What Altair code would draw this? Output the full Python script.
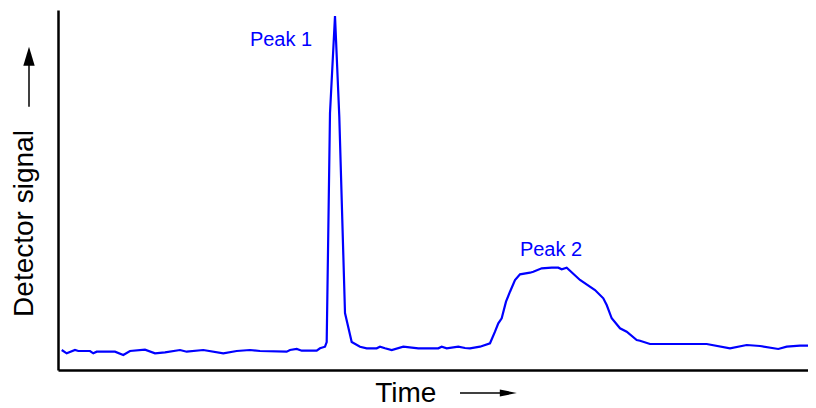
import altair as alt
import pandas as pd

# Chromatogram trace (time units, detector signal units)
time = [2.7, 7.7, 16, 19.3, 31, 34.3, 37.7, 56, 64.3, 71, 86, 96, 106, 121, 127.7,
        144.3, 164.3, 177.7, 191, 201, 227.7, 231, 237.7, 242.7, 257.7, 261, 266,
        267.7, 271, 276, 280.3, 286, 292.7, 301, 307.7, 317.7, 321, 326, 332.7,
        344.3, 359.3, 379.3, 382.7, 387.7, 399.3, 406, 411, 421, 431, 436, 439.3,
        442.7, 447, 451, 456, 461, 471, 474.3, 482.7, 492.7, 499.3, 502.7, 507.7,
        521, 536, 544.3, 547.7, 552.7, 561, 567.7, 577.7, 581, 591, 647.7, 671,
        687.7, 701, 719.3, 727.7, 741, 754]
signal = [20, 16.7, 20, 19, 19, 16.7, 18.3, 18.3, 15, 19, 20.3, 16.7, 17.7, 20, 18.3,
          20, 16.7, 19, 20, 19, 18.3, 20, 21, 19.3, 19.3, 21.7, 23.3,
          28, 257, 354, 253.3, 57, 28, 23.3, 21.7, 21.7, 23.3, 21.7, 20,
          23.3, 21.7, 21.7, 23.3, 21.7, 23.3, 22, 21.7, 23.3, 26.7, 38.3, 46.7,
          51.7, 68.3, 78.3, 90, 95.7, 97.3, 98.3, 101.7, 102.3, 102.3, 100.7, 102.3,
          90, 80, 71.7, 65, 51.7, 41.7, 38.3, 30, 29.3, 26, 26, 21.7,
          25, 24, 21, 23.3, 24.3, 24.3]

peak_labels = ["Peak 1", "Peak 2"]
peak_time = [222, 492]
peak_signal = [324, 114]

x_title = "Time"
y_title = "Detector signal"

FONT = "Liberation Sans"
BLUE = "#0000ff"

trace = pd.DataFrame({"time": time, "signal": signal})
labels = pd.DataFrame({"label": peak_labels, "time": peak_time, "signal": peak_signal})
one = pd.DataFrame({"k": [0]})

xs = alt.Scale(domain=[-1, 749], nice=False, zero=False)
ys = alt.Scale(domain=[0, 360], nice=False, zero=False)

line = alt.Chart(trace).mark_line(color=BLUE, strokeWidth=2.2, clip=False).encode(
    x=alt.X("time:Q", scale=xs, axis=alt.Axis(domain=True, ticks=False, labels=False,
                                               grid=False, title=None)),
    y=alt.Y("signal:Q", scale=ys, axis=alt.Axis(domain=True, ticks=False, labels=False,
                                                 grid=False, title=None)),
)

peak_text = alt.Chart(labels).mark_text(
    color=BLUE, font=FONT, fontSize=20, align="center", baseline="alphabetic"
).encode(x=alt.X("time:Q", scale=xs), y=alt.Y("signal:Q", scale=ys), text="label:N")

ytitle = alt.Chart(one).mark_text(
    text=y_title, font=FONT, fontSize=28, angle=270, align="center", baseline="middle",
    color="black"
).encode(x=alt.value(-33), y=alt.value(213.5))

xtitle = alt.Chart(one).mark_text(
    text=x_title, font=FONT, fontSize=28, align="center", baseline="alphabetic",
    color="black"
).encode(x=alt.value(347.8), y=alt.value(392))

y_shaft = alt.Chart(one).mark_rule(color="black", strokeWidth=1.5).encode(
    x=alt.value(-29), y=alt.value(96.7), y2=alt.value(52))
y_head = alt.Chart(one).mark_point(
    shape="M0,-1L0.6,1L-0.6,1Z", filled=True, color="black", opacity=1, size=361
).encode(x=alt.value(-29), y=alt.value(46.3))

x_shaft = alt.Chart(one).mark_rule(color="black", strokeWidth=1.5).encode(
    x=alt.value(402), x2=alt.value(448), y=alt.value(383))
x_head = alt.Chart(one).mark_point(
    shape="M1,0L-1,-0.42L-1,0.42Z", filled=True, color="black", opacity=1, size=289
).encode(x=alt.value(450.3), y=alt.value(383))

chart = alt.layer(line, peak_text, ytitle, xtitle, y_shaft, y_head, x_shaft, x_head).properties(
    width=750, height=360,
    autosize="none",
    padding={"left": 50, "top": 2, "right": 0, "bottom": 38},
).configure_axis(
    domainColor="black", domainWidth=2.5
).configure_view(stroke=None)

chart.save("out.html", embed_options={"renderer": "svg", "actions": False})
